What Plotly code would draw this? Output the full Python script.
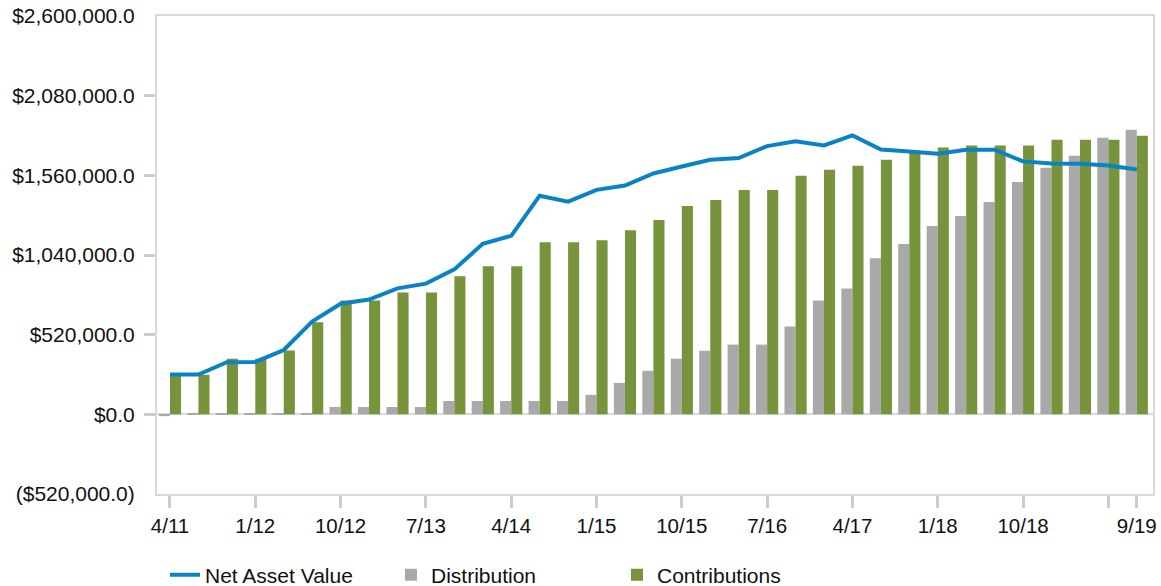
import plotly.graph_objects as go

# Quarter-end labels (last point is a September month-end)
periods = ["4/11", "7/11", "10/11",
           "1/12", "4/12", "7/12", "10/12",
           "1/13", "4/13", "7/13", "10/13",
           "1/14", "4/14", "7/14", "10/14",
           "1/15", "4/15", "7/15", "10/15",
           "1/16", "4/16", "7/16", "10/16",
           "1/17", "4/17", "7/17", "10/17",
           "1/18", "4/18", "7/18", "10/18",
           "1/19", "4/19", "7/19", "9/19"]

# Cumulative distributions, USD
distribution = [-12000, 8000, 8000, 8000, 8000, 8000,
                48000, 48000, 48000, 48000,
                87000, 87000, 87000, 87000, 87000,
                127000, 205000, 284000, 363000, 415000, 455000, 455000,
                573000, 743000, 822000, 1019000, 1111000, 1229000, 1294000,
                1386000, 1517000, 1609000, 1688000, 1806000, 1858000]

# Cumulative contributions, USD
contributions = [266000, 258000, 363000, 363000, 417000, 601000,
                 743000, 743000, 796000, 796000, 901000, 966000, 966000,
                 1124000, 1124000, 1137000, 1202000, 1268000, 1360000, 1399000,
                 1465000, 1465000, 1557000, 1596000, 1622000, 1662000, 1705000,
                 1741000, 1754000, 1754000, 1754000, 1793000, 1793000, 1793000,
                 1819000]

# Net asset value, USD
nav = [260000, 260000, 340000, 342000, 420000, 605000, 722000, 749000,
       822000, 853000, 946000, 1113000, 1165000, 1427000, 1388000, 1465000,
       1493000, 1572000, 1618000, 1662000, 1673000, 1751000, 1782000, 1755000,
       1821000, 1729000, 1716000, 1701000, 1727000, 1727000, 1651000, 1638000,
       1635000, 1624000, 1598000]

# Axis ticks
y_ticks = [-520000, 0, 520000, 1040000, 1560000, 2080000, 2600000]
x_tick_periods = ["4/11", "1/12", "10/12", "7/13", "4/14", "1/15", "10/15",
                  "7/16", "4/17", "1/18", "10/18", "7/19", "9/19"]
x_tick_labels = ["4/11", "1/12", "10/12", "7/13", "4/14", "1/15", "10/15",
                 "7/16", "4/17", "1/18", "10/18", "", "9/19"]


def money(v):
    s = "${:,.1f}".format(abs(v))
    return "(" + s + ")" if v < 0 else s


FONT = "Liberation Sans, Arial, sans-serif"
TICK_COLOR = "#c9cdd2"
FRAME_COLOR = "#d9d9d9"

fig = go.Figure()
fig.add_trace(go.Bar(x=periods, y=distribution, name="Distribution",
                     marker=dict(color="#a9a9a9", line=dict(width=0)),
                     legendrank=2))
fig.add_trace(go.Bar(x=periods, y=contributions, name="Contributions",
                     marker=dict(color="#77933c", line=dict(width=0)),
                     legendrank=3))
fig.add_trace(go.Scatter(x=periods, y=nav, name="Net Asset Value",
                         mode="lines", line=dict(color="#0a83c4", width=4),
                         legendrank=1))

fig.update_layout(
    width=1161, height=586,
    margin=dict(l=157, r=8, t=16, b=92, autoexpand=False),
    paper_bgcolor="white", plot_bgcolor="white",
    barmode="group", bargap=0.22, bargroupgap=0,
    font=dict(family=FONT, size=21, color="#111111"),
    showlegend=True,
    legend=dict(orientation="h", x=0.008, xanchor="left",
                y=-0.127, yanchor="top",
                font=dict(family=FONT, size=21, color="#111111"),
                entrywidth=181, traceorder="normal"),
)

fig.update_xaxes(
    type="category", categoryorder="array", categoryarray=periods,
    range=[-0.457, 34.57],
    tickmode="array", tickvals=x_tick_periods, ticktext=x_tick_labels,
    ticks="outside", ticklen=12, tickwidth=3, tickcolor=TICK_COLOR,
    showline=True, linecolor=FRAME_COLOR, linewidth=2, mirror=True,
    showgrid=False, tickfont=dict(size=20.5),
)

fig.update_yaxes(
    range=[-520000, 2600000],
    tickmode="array", tickvals=y_ticks, ticktext=[money(v) for v in y_ticks],
    ticks="", ticklabelstandoff=16,
    minor=dict(tickmode="array", tickvals=y_ticks[1:-1], ticks="outside",
               ticklen=11, tickwidth=3, tickcolor=TICK_COLOR, showgrid=False),
    showline=True, linecolor=FRAME_COLOR, linewidth=2, mirror=True,
    showgrid=False, zeroline=True, zerolinecolor=FRAME_COLOR, zerolinewidth=2,
    tickfont=dict(size=21),
)

fig.write_html("out.html")
